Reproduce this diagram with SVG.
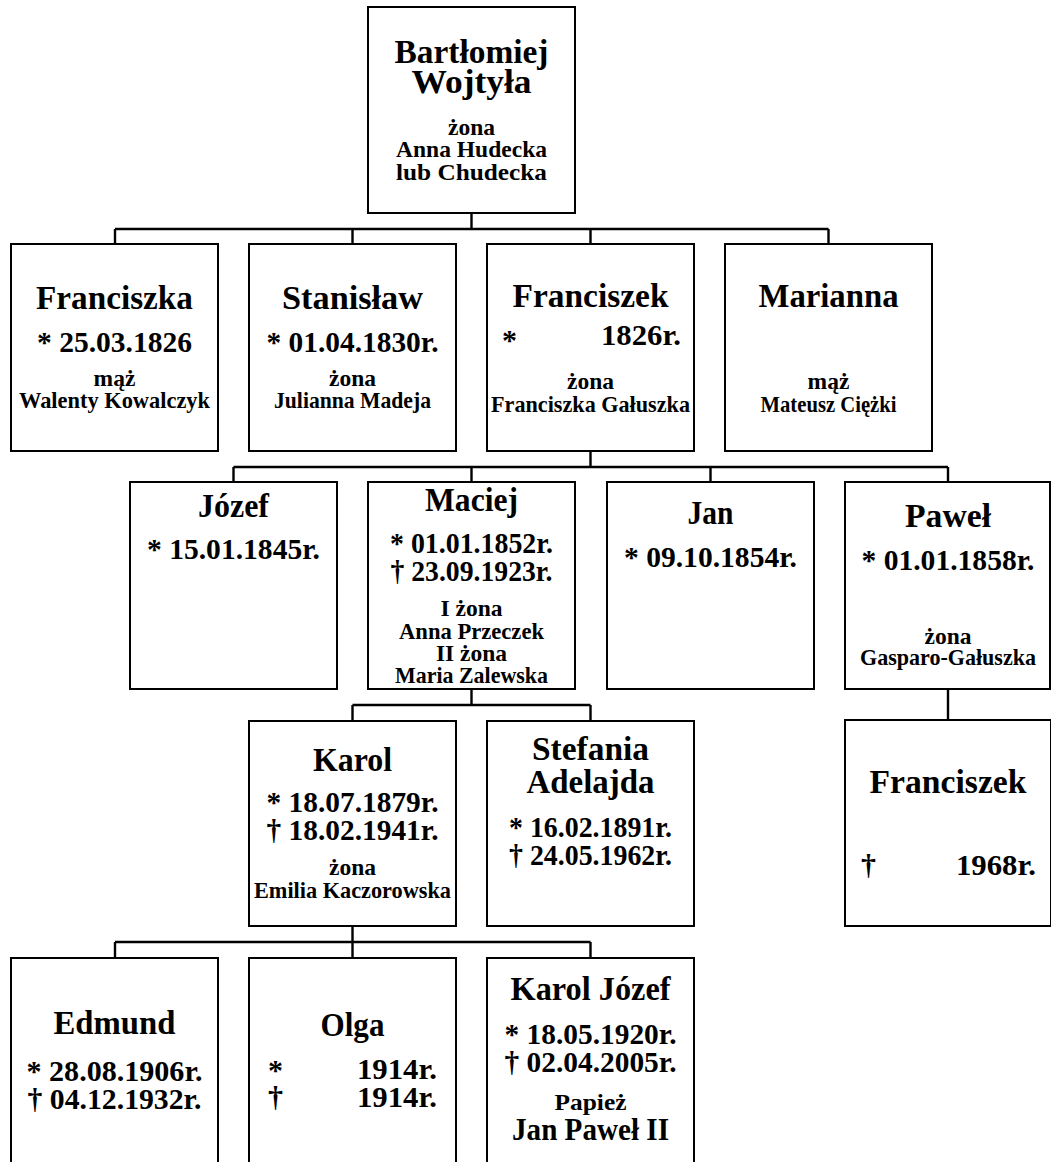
<svg xmlns="http://www.w3.org/2000/svg" width="1051" height="1162" viewBox="0 0 1051 1162">
<style>
.b{fill:#fff;stroke:#000;stroke-width:2}
.c{fill:none;stroke:#000;stroke-width:2.4}
text{font-family:"Liberation Serif","Times New Roman",serif;font-weight:bold;fill:#000;text-anchor:middle}
.n{font-size:34px}
.d{font-size:30px}
.s{font-size:23.5px}
.l{text-anchor:start}
.r{text-anchor:end}
</style>
<rect width="1051" height="1162" fill="#fff"/>
<g id="connectors">
<path class="c" d="M471.5 213V229M115 229H828.5M115 229V244M352.5 229V244M590.5 229V244M828.5 229V244"/>
<path class="c" d="M590.5 451V467M233.5 467H948M233.5 467V482M471.5 467V482M710.5 467V482M948 467V482"/>
<path class="c" d="M471.5 689V705M352.5 705H590.5M352.5 705V721M590.5 705V721M948 689V720"/>
<path class="c" d="M352.5 926V958M115 942H590.5M115 942V958M590.5 942V958"/>
</g>
<g id="bartlomiej">
<rect class="b" x="368" y="7" width="207" height="206"/>
<text class="n" x="471.5" y="63" textLength="154" lengthAdjust="spacingAndGlyphs">Bartłomiej</text>
<text class="n" x="471.5" y="93" textLength="120" lengthAdjust="spacingAndGlyphs">Wojtyła</text>
<text class="s" x="471.5" y="135">żona</text>
<text class="s" x="471.5" y="157" textLength="151" lengthAdjust="spacingAndGlyphs">Anna Hudecka</text>
<text class="s" x="471.5" y="180" textLength="151" lengthAdjust="spacingAndGlyphs">lub Chudecka</text>
</g>
<g id="franciszka">
<rect class="b" x="11" y="244" width="207" height="207"/>
<text class="n" x="114.5" y="309" textLength="157" lengthAdjust="spacingAndGlyphs">Franciszka</text>
<text class="d" x="114.5" y="351.5" textLength="155" lengthAdjust="spacingAndGlyphs">* 25.03.1826</text>
<text class="s" x="114.5" y="385.5">mąż</text>
<text class="s" x="114.5" y="408" textLength="191" lengthAdjust="spacingAndGlyphs">Walenty Kowalczyk</text>
</g>
<g id="stanislaw">
<rect class="b" x="249" y="244" width="207" height="207"/>
<text class="n" x="352.5" y="309" textLength="141" lengthAdjust="spacingAndGlyphs">Stanisław</text>
<text class="d" x="352.5" y="351.5" textLength="172" lengthAdjust="spacingAndGlyphs">* 01.04.1830r.</text>
<text class="s" x="352.5" y="385.5">żona</text>
<text class="s" x="352.5" y="408" textLength="157" lengthAdjust="spacingAndGlyphs">Julianna Madeja</text>
</g>
<g id="franciszek">
<rect class="b" x="487" y="244" width="207" height="207"/>
<text class="n" x="590.5" y="307" textLength="156" lengthAdjust="spacingAndGlyphs">Franciszek</text>
<text class="d l" x="502" y="350">*</text>
<text class="d r" x="681" y="345" textLength="80" lengthAdjust="spacingAndGlyphs">1826r.</text>
<text class="s" x="590.5" y="389">żona</text>
<text class="s" x="590.5" y="412" textLength="199" lengthAdjust="spacingAndGlyphs">Franciszka Gałuszka</text>
</g>
<g id="marianna">
<rect class="b" x="725" y="244" width="207" height="207"/>
<text class="n" x="828.5" y="307" textLength="140" lengthAdjust="spacingAndGlyphs">Marianna</text>
<text class="s" x="828.5" y="389">mąż</text>
<text class="s" x="828.5" y="412" textLength="136" lengthAdjust="spacingAndGlyphs">Mateusz Ciężki</text>
</g>
<g id="jozef">
<rect class="b" x="130" y="482" width="207" height="207"/>
<text class="n" x="233.5" y="516.5" textLength="71" lengthAdjust="spacingAndGlyphs">Józef</text>
<text class="d" x="233.5" y="559" textLength="173" lengthAdjust="spacingAndGlyphs">* 15.01.1845r.</text>
</g>
<g id="maciej">
<rect class="b" x="368" y="482" width="207" height="207"/>
<text class="n" x="471.5" y="511" textLength="93" lengthAdjust="spacingAndGlyphs">Maciej</text>
<text class="d" x="471.5" y="553" textLength="163" lengthAdjust="spacingAndGlyphs">* 01.01.1852r.</text>
<text class="d" x="471.5" y="581" textLength="162" lengthAdjust="spacingAndGlyphs">† 23.09.1923r.</text>
<text class="s" x="471.5" y="616">I żona</text>
<text class="s" x="471.5" y="638.5" textLength="145" lengthAdjust="spacingAndGlyphs">Anna Przeczek</text>
<text class="s" x="471.5" y="661">II żona</text>
<text class="s" x="471.5" y="682.5" textLength="153" lengthAdjust="spacingAndGlyphs">Maria Zalewska</text>
</g>
<g id="jan">
<rect class="b" x="607" y="482" width="207" height="207"/>
<text class="n" x="710.5" y="524" textLength="46" lengthAdjust="spacingAndGlyphs">Jan</text>
<text class="d" x="710.5" y="566.5" textLength="173" lengthAdjust="spacingAndGlyphs">* 09.10.1854r.</text>
</g>
<g id="pawel">
<rect class="b" x="845" y="482" width="205" height="207"/>
<text class="n" x="948" y="527" textLength="86" lengthAdjust="spacingAndGlyphs">Paweł</text>
<text class="d" x="948" y="570" textLength="173" lengthAdjust="spacingAndGlyphs">* 01.01.1858r.</text>
<text class="s" x="948" y="644">żona</text>
<text class="s" x="948" y="665" textLength="176" lengthAdjust="spacingAndGlyphs">Gasparo-Gałuszka</text>
</g>
<g id="karol">
<rect class="b" x="249" y="721" width="207" height="205"/>
<text class="n" x="352.5" y="770.5" textLength="79" lengthAdjust="spacingAndGlyphs">Karol</text>
<text class="d" x="352.5" y="811.5" textLength="172" lengthAdjust="spacingAndGlyphs">* 18.07.1879r.</text>
<text class="d" x="352.5" y="839.5" textLength="172" lengthAdjust="spacingAndGlyphs">† 18.02.1941r.</text>
<text class="s" x="352.5" y="875">żona</text>
<text class="s" x="352.5" y="897.5" textLength="197" lengthAdjust="spacingAndGlyphs">Emilia Kaczorowska</text>
</g>
<g id="stefania">
<rect class="b" x="487" y="721" width="207" height="205"/>
<text class="n" x="590.5" y="760" textLength="117" lengthAdjust="spacingAndGlyphs">Stefania</text>
<text class="n" x="590.5" y="792.5" textLength="128" lengthAdjust="spacingAndGlyphs">Adelajda</text>
<text class="d" x="590.5" y="836.5" textLength="163" lengthAdjust="spacingAndGlyphs">* 16.02.1891r.</text>
<text class="d" x="590.5" y="864.5" textLength="163" lengthAdjust="spacingAndGlyphs">† 24.05.1962r.</text>
</g>
<g id="franciszek2">
<rect class="b" x="845" y="720" width="206" height="206"/>
<text class="n" x="948" y="792.5" textLength="157" lengthAdjust="spacingAndGlyphs">Franciszek</text>
<text class="d l" x="861" y="875">†</text>
<text class="d r" x="1036" y="875" textLength="80" lengthAdjust="spacingAndGlyphs">1968r.</text>
</g>
<g id="edmund">
<rect class="b" x="11" y="958" width="207" height="220"/>
<text class="n" x="114.5" y="1034" textLength="122" lengthAdjust="spacingAndGlyphs">Edmund</text>
<text class="d" x="114.5" y="1081" textLength="176" lengthAdjust="spacingAndGlyphs">* 28.08.1906r.</text>
<text class="d" x="114.5" y="1109" textLength="174" lengthAdjust="spacingAndGlyphs">† 04.12.1932r.</text>
</g>
<g id="olga">
<rect class="b" x="249" y="958" width="207" height="220"/>
<text class="n" x="352.5" y="1035.5" textLength="64" lengthAdjust="spacingAndGlyphs">Olga</text>
<text class="d l" x="268" y="1080">*</text>
<text class="d r" x="437" y="1079" textLength="80" lengthAdjust="spacingAndGlyphs">1914r.</text>
<text class="d l" x="268" y="1107">†</text>
<text class="d r" x="437" y="1107" textLength="80" lengthAdjust="spacingAndGlyphs">1914r.</text>
</g>
<g id="karol-jozef">
<rect class="b" x="487" y="958" width="207" height="220"/>
<text class="n" x="590.5" y="1000" textLength="160" lengthAdjust="spacingAndGlyphs">Karol Józef</text>
<text class="d" x="590.5" y="1044" textLength="172" lengthAdjust="spacingAndGlyphs">* 18.05.1920r.</text>
<text class="d" x="590.5" y="1071.5" textLength="172" lengthAdjust="spacingAndGlyphs">† 02.04.2005r.</text>
<text class="s" x="590.5" y="1110" textLength="72" lengthAdjust="spacingAndGlyphs">Papież</text>
<text class="n" x="590.5" y="1140" textLength="157" lengthAdjust="spacingAndGlyphs" style="font-size:32px">Jan Paweł II</text>
</g>
</svg>
